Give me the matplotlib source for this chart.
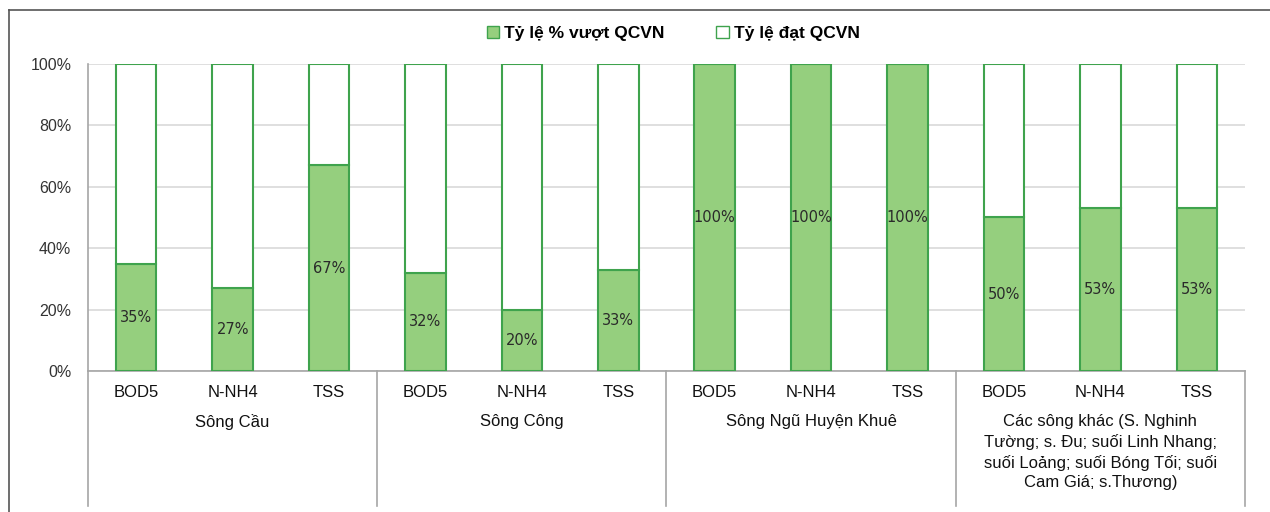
import numpy as np
import matplotlib
matplotlib.use("Agg")
import matplotlib.pyplot as plt
from matplotlib.patches import Patch
from matplotlib.lines import Line2D

# data
groups = ["Sông Cầu", "Sông Công", "Sông Ngũ Huyện Khuê",
          "Các sông khác (S. Nghinh\nTường; s. Đu; suối Linh Nhang;\nsuối Loảng; suối Bóng Tối; suối\nCam Giá; s.Thương)"]
params = ["BOD5", "N-NH4", "TSS"]
vuot = [35, 27, 67, 32, 20, 33, 100, 100, 100, 50, 53, 53]
dat = [100 - v for v in vuot]

green = "#95CF7E"
edge = "#3FA34D"

plt.rcParams['font.family'] = ['Liberation Sans', 'DejaVu Sans']

fig = plt.figure(figsize=(12.7, 5.12), dpi=100)
ax = fig.add_axes([0.0693, 0.2754, 0.911, 0.5996])

x = np.arange(len(vuot))
ax.bar(x, vuot, width=0.42, color=green, edgecolor=edge, linewidth=1.5, zorder=3)
ax.bar(x, dat, width=0.42, bottom=vuot, color="white", edgecolor=edge, linewidth=1.5, zorder=3)

for xi, v in zip(x, vuot):
    ax.text(xi, v / 2, f"{v}%", ha="center", va="center", fontsize=10.5,
            color="#2a2a2a", family="DejaVu Sans", zorder=4)

ax.set_xlim(-0.5, len(vuot) - 0.5)
ax.set_ylim(0, 100)
ax.set_yticks(np.arange(0, 101, 20))
ax.set_yticklabels([f"{t}%" for t in range(0, 101, 20)], fontsize=11.5, color="#333333")
ax.yaxis.grid(True, color="#D9D9D9", linewidth=1.2, zorder=0)
ax.tick_params(axis="y", length=0, pad=12)
ax.set_xticks(x)
ax.set_xticklabels(params * 4, fontsize=12, color="#111111")
ax.tick_params(axis="x", length=0, pad=10)
for s in ["top", "right"]:
    ax.spines[s].set_visible(False)
ax.spines["left"].set_color("#A6A6A6")
ax.spines["bottom"].set_color("#A6A6A6")
ax.spines["left"].set_linewidth(1.2)
ax.spines["bottom"].set_linewidth(1.2)

# group separators below axis
trans = ax.get_xaxis_transform()
for b in [-0.5, 2.5, 5.5, 8.5, 11.5]:
    ax.add_line(Line2D([b, b], [0, -0.44], transform=trans, color="#A6A6A6",
                       linewidth=1.2, clip_on=False))
for i, g in enumerate(groups):
    ax.text(3 * i + 1, -0.14, g, transform=trans, ha="center", va="top",
            fontsize=12, color="#111111", linespacing=1.38)

# legend
handles = [Patch(facecolor=green, edgecolor=edge, label="Tỷ lệ % vượt QCVN"),
           Patch(facecolor="white", edgecolor=edge, label="Tỷ lệ đạt QCVN")]
fig.legend(handles=handles, loc="center", bbox_to_anchor=(0.53, 0.935), ncol=2,
           frameon=False, prop={"weight": "bold", "size": 12.5},
           handlelength=0.7, handleheight=0.7, handletextpad=0.3, columnspacing=3.0)

# outer frame (top and left)
fig.add_artist(Line2D([0.007, 1.0], [0.981, 0.981], color="#555555", linewidth=1.2))
fig.add_artist(Line2D([0.007, 0.007], [0.0, 0.981], color="#555555", linewidth=1.2))

fig.savefig("out.png", dpi=100)
